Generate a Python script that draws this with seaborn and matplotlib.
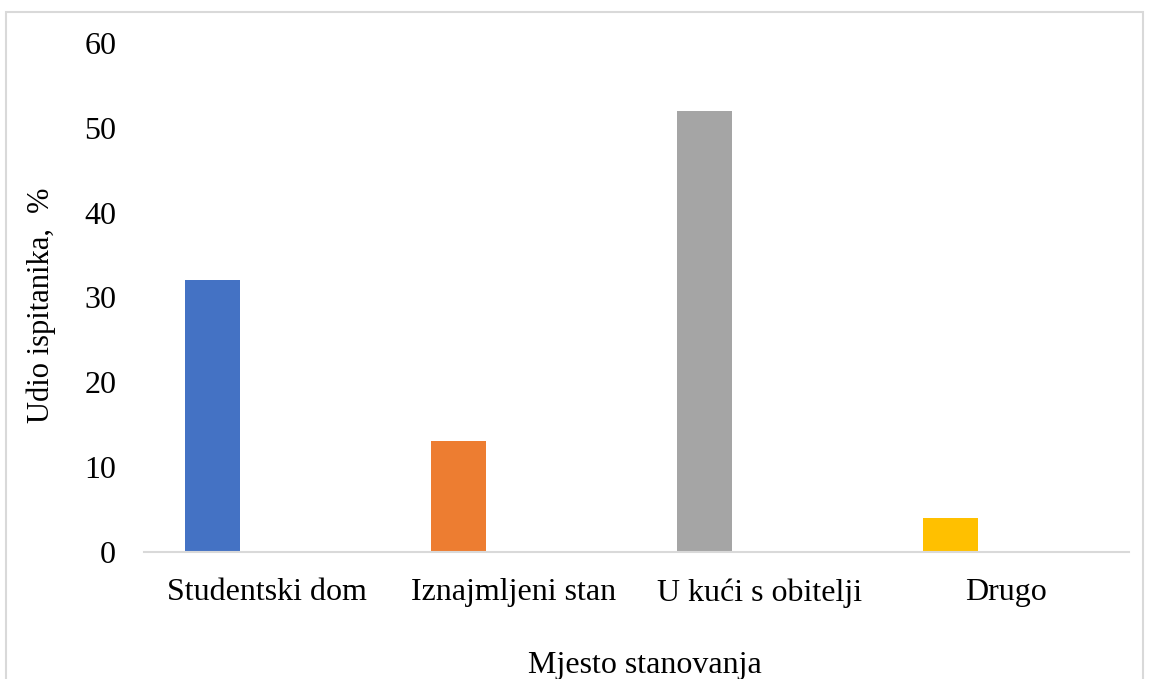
import matplotlib
matplotlib.use("Agg")
import matplotlib.pyplot as plt
import seaborn as sns
import pandas as pd
from matplotlib.patches import Rectangle

# data
categories = ["Studentski dom", "Iznajmljeni stan", "U kući s obitelji", "Drugo"]
values = [32, 13, 52, 4]
series_order = ["Serija 1", "Serija 2", "Serija 3"]  # only the first series has values
bar_colors = ["#4472C4", "#ED7D31", "#A5A5A5", "#FFC000"]
y_ticks = [0, 10, 20, 30, 40, 50, 60]

df = pd.DataFrame({
    "Mjesto stanovanja": categories,
    "Udio ispitanika, %": values,
    "serija": series_order[0],
})

sns.set_theme(style="white")
plt.rcParams["font.family"] = ["Liberation Serif", "DejaVu Serif"]

fig = plt.figure(figsize=(11.49, 6.79), dpi=100)
ax = fig.add_axes([0.1253, 0.1875, 0.8573, 0.7492])

sns.barplot(data=df, x="Mjesto stanovanja", y="Udio ispitanika, %",
            hue="serija", hue_order=series_order, dodge=True,
            width=0.67, gap=0, legend=False, ax=ax)

# colour each bar by category (Excel "vary colours by point")
for patch, c in zip(ax.patches, bar_colors):
    patch.set_facecolor(c)
    patch.set_edgecolor("none")

ax.set_ylim(0, 60)
ax.set_xlim(-0.5, 3.5)
ax.set_yticks(y_ticks)
ax.tick_params(axis="y", length=0, pad=20, labelsize=23, labelcolor="black")
ax.tick_params(axis="x", length=0, pad=19, labelsize=23, labelcolor="black")

for side in ["top", "right", "left"]:
    ax.spines[side].set_visible(False)
ax.spines["bottom"].set_color("#D9D9D9")
ax.spines["bottom"].set_linewidth(1.5)

ax.set_xlabel("Mjesto stanovanja", fontsize=23, color="black")
ax.set_ylabel("Udio ispitanika,  %", fontsize=22, color="black")
ax.xaxis.set_label_coords(0.5086, -0.196)
ax.yaxis.set_label_coords(-0.089, 0.484)

# light chart-area frame
fig.patches.append(Rectangle((6 / 1149, -0.05), 1137 / 1149, 1 - 12 / 679 + 0.05,
                             transform=fig.transFigure, fill=False,
                             edgecolor="#D9D9D9", linewidth=1.5))

fig.savefig("out.png", dpi=100)
plt.close(fig)
